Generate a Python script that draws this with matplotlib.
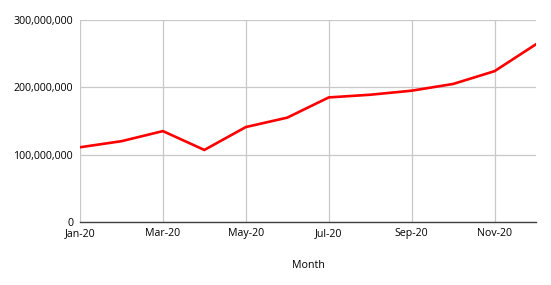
import matplotlib
matplotlib.use("Agg")
import matplotlib.pyplot as plt
from matplotlib.ticker import FuncFormatter

months = ["Jan-20", "Feb-20", "Mar-20", "Apr-20", "May-20", "Jun-20",
          "Jul-20", "Aug-20", "Sep-20", "Oct-20", "Nov-20", "Dec-20"]
values = [111e6, 120e6, 135e6, 107e6, 141e6, 155e6,
          185e6, 189e6, 195e6, 205e6, 224e6, 264e6]

plt.rcParams['font.family'] = ['Open Sans', 'DejaVu Sans']

fig = plt.figure(figsize=(5.51, 2.85), dpi=100)
ax = fig.add_axes([80/551, 1 - 222/285, (536-80)/551, (222-20)/285])

x = list(range(len(months)))
ax.plot(x, values, color="#ff0000", lw=1.9, solid_joinstyle="miter")

ax.set_xlim(0, 11)
ax.set_ylim(0, 300e6)
ax.set_xticks(x[::2])
ax.set_xticklabels(months[::2])
ax.set_yticks([0, 100e6, 200e6, 300e6])
ax.yaxis.set_major_formatter(FuncFormatter(lambda v, p: f"{int(v):,}"))

ax.grid(True, color="#c8c8c8", lw=0.9)
ax.set_axisbelow(True)
for s in ["top", "right", "left"]:
    ax.spines[s].set_visible(False)
ax.spines["bottom"].set_color("#404040")
ax.spines["bottom"].set_linewidth(1.0)
ax.tick_params(length=0, labelsize=7.7, colors="#000000", pad=4.5)
ax.tick_params(axis="y", pad=5)
ax.set_xlabel("Month", fontsize=7.7, labelpad=15)

fig.savefig("out.png", dpi=100)
